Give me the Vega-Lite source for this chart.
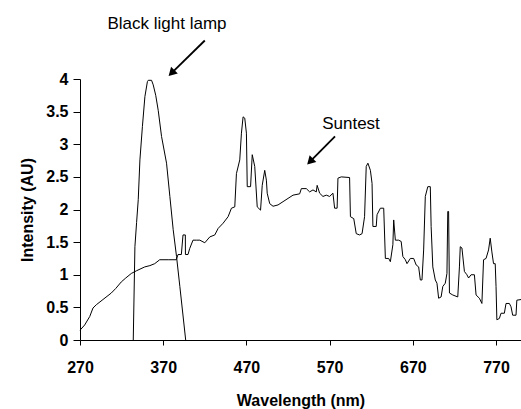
{
  "$schema": "https://vega.github.io/schema/vega-lite/v6.json",
  "width": 441,
  "height": 261,
  "autosize": {"type": "none"},
  "padding": {"left": 80, "top": 79, "right": 0, "bottom": 69},
  "background": "white",
  "config": {
    "view": {"stroke": null},
    "axis": {
      "domainColor": "black", "tickColor": "black", "labelColor": "black", "titleColor": "black",
      "labelFont": "Liberation Sans", "titleFont": "Liberation Sans",
      "labelFontWeight": "bold", "titleFontWeight": "bold",
      "labelFontSize": 16, "titleFontSize": 16, "grid": false, "domainWidth": 1, "tickWidth": 1
    }
  },
  "datasets": {
    "spectra": [
      {"series": "Suntest", "wl": 270, "v": 0.15},
      {"series": "Suntest", "wl": 275.6, "v": 0.23},
      {"series": "Suntest", "wl": 281.7, "v": 0.36},
      {"series": "Suntest", "wl": 285.6, "v": 0.49},
      {"series": "Suntest", "wl": 289.6, "v": 0.54},
      {"series": "Suntest", "wl": 297.6, "v": 0.62},
      {"series": "Suntest", "wl": 307.6, "v": 0.72},
      {"series": "Suntest", "wl": 313, "v": 0.79},
      {"series": "Suntest", "wl": 319.6, "v": 0.89},
      {"series": "Suntest", "wl": 325, "v": 0.95},
      {"series": "Suntest", "wl": 331.7, "v": 1.02},
      {"series": "Suntest", "wl": 337.7, "v": 1.06},
      {"series": "Suntest", "wl": 347.8, "v": 1.12},
      {"series": "Suntest", "wl": 354, "v": 1.14},
      {"series": "Suntest", "wl": 359.8, "v": 1.17},
      {"series": "Suntest", "wl": 365.8, "v": 1.23},
      {"series": "Suntest", "wl": 376, "v": 1.23},
      {"series": "Suntest", "wl": 385.7, "v": 1.23},
      {"series": "Suntest", "wl": 387.8, "v": 1.31},
      {"series": "Suntest", "wl": 391.8, "v": 1.31},
      {"series": "Suntest", "wl": 393.8, "v": 1.61},
      {"series": "Suntest", "wl": 396.6, "v": 1.61},
      {"series": "Suntest", "wl": 396.7, "v": 1.31},
      {"series": "Suntest", "wl": 399.8, "v": 1.31},
      {"series": "Suntest", "wl": 401.8, "v": 1.4},
      {"series": "Suntest", "wl": 405.8, "v": 1.53},
      {"series": "Suntest", "wl": 409.8, "v": 1.53},
      {"series": "Suntest", "wl": 414, "v": 1.53},
      {"series": "Suntest", "wl": 420, "v": 1.49},
      {"series": "Suntest", "wl": 426, "v": 1.58},
      {"series": "Suntest", "wl": 432, "v": 1.61},
      {"series": "Suntest", "wl": 436, "v": 1.71},
      {"series": "Suntest", "wl": 442, "v": 1.79},
      {"series": "Suntest", "wl": 448, "v": 1.89},
      {"series": "Suntest", "wl": 452, "v": 2.02},
      {"series": "Suntest", "wl": 456, "v": 2.04},
      {"series": "Suntest", "wl": 458, "v": 2.55},
      {"series": "Suntest", "wl": 462, "v": 2.76},
      {"series": "Suntest", "wl": 464, "v": 3.17},
      {"series": "Suntest", "wl": 466, "v": 3.42},
      {"series": "Suntest", "wl": 468, "v": 3.4},
      {"series": "Suntest", "wl": 470, "v": 3.17},
      {"series": "Suntest", "wl": 471, "v": 2.35},
      {"series": "Suntest", "wl": 475, "v": 2.35},
      {"series": "Suntest", "wl": 477, "v": 2.84},
      {"series": "Suntest", "wl": 480, "v": 2.66},
      {"series": "Suntest", "wl": 483, "v": 2.04},
      {"series": "Suntest", "wl": 487, "v": 1.99},
      {"series": "Suntest", "wl": 489, "v": 2.37},
      {"series": "Suntest", "wl": 492, "v": 2.6},
      {"series": "Suntest", "wl": 494, "v": 2.45},
      {"series": "Suntest", "wl": 495, "v": 2.25},
      {"series": "Suntest", "wl": 498, "v": 2.09},
      {"series": "Suntest", "wl": 502, "v": 2.05},
      {"series": "Suntest", "wl": 508, "v": 2.07},
      {"series": "Suntest", "wl": 514, "v": 2.12},
      {"series": "Suntest", "wl": 520, "v": 2.17},
      {"series": "Suntest", "wl": 526, "v": 2.22},
      {"series": "Suntest", "wl": 534, "v": 2.24},
      {"series": "Suntest", "wl": 536, "v": 2.32},
      {"series": "Suntest", "wl": 542, "v": 2.32},
      {"series": "Suntest", "wl": 546, "v": 2.27},
      {"series": "Suntest", "wl": 550, "v": 2.3},
      {"series": "Suntest", "wl": 554, "v": 2.27},
      {"series": "Suntest", "wl": 555, "v": 2.37},
      {"series": "Suntest", "wl": 558, "v": 2.25},
      {"series": "Suntest", "wl": 562, "v": 2.2},
      {"series": "Suntest", "wl": 566, "v": 2.22},
      {"series": "Suntest", "wl": 570, "v": 2.2},
      {"series": "Suntest", "wl": 574, "v": 2.25},
      {"series": "Suntest", "wl": 576, "v": 2.02},
      {"series": "Suntest", "wl": 579, "v": 2.02},
      {"series": "Suntest", "wl": 580, "v": 2.48},
      {"series": "Suntest", "wl": 584, "v": 2.5},
      {"series": "Suntest", "wl": 594, "v": 2.49},
      {"series": "Suntest", "wl": 595, "v": 1.89},
      {"series": "Suntest", "wl": 599, "v": 1.86},
      {"series": "Suntest", "wl": 602, "v": 1.63},
      {"series": "Suntest", "wl": 606, "v": 1.61},
      {"series": "Suntest", "wl": 609, "v": 1.63},
      {"series": "Suntest", "wl": 612, "v": 1.89},
      {"series": "Suntest", "wl": 614, "v": 2.66},
      {"series": "Suntest", "wl": 616, "v": 2.71},
      {"series": "Suntest", "wl": 619, "v": 2.6},
      {"series": "Suntest", "wl": 621, "v": 2.4},
      {"series": "Suntest", "wl": 622, "v": 1.74},
      {"series": "Suntest", "wl": 626, "v": 1.74},
      {"series": "Suntest", "wl": 627, "v": 1.92},
      {"series": "Suntest", "wl": 631, "v": 2.02},
      {"series": "Suntest", "wl": 635, "v": 2.02},
      {"series": "Suntest", "wl": 637, "v": 1.25},
      {"series": "Suntest", "wl": 641, "v": 1.25},
      {"series": "Suntest", "wl": 643, "v": 1.2},
      {"series": "Suntest", "wl": 646, "v": 1.46},
      {"series": "Suntest", "wl": 647, "v": 1.84},
      {"series": "Suntest", "wl": 649, "v": 1.53},
      {"series": "Suntest", "wl": 653, "v": 1.53},
      {"series": "Suntest", "wl": 656, "v": 1.51},
      {"series": "Suntest", "wl": 658, "v": 1.28},
      {"series": "Suntest", "wl": 661, "v": 1.23},
      {"series": "Suntest", "wl": 663, "v": 1.17},
      {"series": "Suntest", "wl": 667, "v": 1.25},
      {"series": "Suntest", "wl": 671, "v": 1.25},
      {"series": "Suntest", "wl": 674, "v": 1.15},
      {"series": "Suntest", "wl": 677, "v": 1.12},
      {"series": "Suntest", "wl": 679, "v": 0.92},
      {"series": "Suntest", "wl": 681, "v": 0.92},
      {"series": "Suntest", "wl": 683, "v": 1.38},
      {"series": "Suntest", "wl": 685, "v": 2.2},
      {"series": "Suntest", "wl": 688, "v": 2.35},
      {"series": "Suntest", "wl": 691, "v": 2.35},
      {"series": "Suntest", "wl": 692, "v": 1.74},
      {"series": "Suntest", "wl": 694, "v": 1.12},
      {"series": "Suntest", "wl": 697, "v": 0.92},
      {"series": "Suntest", "wl": 699, "v": 0.87},
      {"series": "Suntest", "wl": 701, "v": 0.64},
      {"series": "Suntest", "wl": 704, "v": 0.66},
      {"series": "Suntest", "wl": 706, "v": 0.82},
      {"series": "Suntest", "wl": 709, "v": 0.87},
      {"series": "Suntest", "wl": 711, "v": 1.02},
      {"series": "Suntest", "wl": 712, "v": 1.97},
      {"series": "Suntest", "wl": 713, "v": 1.97},
      {"series": "Suntest", "wl": 714, "v": 0.72},
      {"series": "Suntest", "wl": 718, "v": 0.69},
      {"series": "Suntest", "wl": 724, "v": 0.66},
      {"series": "Suntest", "wl": 726, "v": 1.12},
      {"series": "Suntest", "wl": 727, "v": 1.43},
      {"series": "Suntest", "wl": 729, "v": 1.41},
      {"series": "Suntest", "wl": 732, "v": 1.05},
      {"series": "Suntest", "wl": 735, "v": 1.0},
      {"series": "Suntest", "wl": 737, "v": 0.95},
      {"series": "Suntest", "wl": 740, "v": 1.0},
      {"series": "Suntest", "wl": 744, "v": 1.0},
      {"series": "Suntest", "wl": 746, "v": 0.69},
      {"series": "Suntest", "wl": 750, "v": 0.64},
      {"series": "Suntest", "wl": 753, "v": 0.56},
      {"series": "Suntest", "wl": 755, "v": 1.23},
      {"series": "Suntest", "wl": 758, "v": 1.25},
      {"series": "Suntest", "wl": 761, "v": 1.38},
      {"series": "Suntest", "wl": 763, "v": 1.56},
      {"series": "Suntest", "wl": 765, "v": 1.35},
      {"series": "Suntest", "wl": 767, "v": 1.17},
      {"series": "Suntest", "wl": 769, "v": 1.17},
      {"series": "Suntest", "wl": 770, "v": 0.82},
      {"series": "Suntest", "wl": 771, "v": 0.31},
      {"series": "Suntest", "wl": 774, "v": 0.33},
      {"series": "Suntest", "wl": 776, "v": 0.41},
      {"series": "Suntest", "wl": 780, "v": 0.41},
      {"series": "Suntest", "wl": 782, "v": 0.56},
      {"series": "Suntest", "wl": 786, "v": 0.56},
      {"series": "Suntest", "wl": 788, "v": 0.51},
      {"series": "Suntest", "wl": 790, "v": 0.38},
      {"series": "Suntest", "wl": 794, "v": 0.38},
      {"series": "Suntest", "wl": 795, "v": 0.61},
      {"series": "Suntest", "wl": 800, "v": 0.62},
      {"series": "Black light lamp", "wl": 334, "v": 0},
      {"series": "Black light lamp", "wl": 336, "v": 1.43},
      {"series": "Black light lamp", "wl": 338, "v": 1.8},
      {"series": "Black light lamp", "wl": 340, "v": 2.15},
      {"series": "Black light lamp", "wl": 342, "v": 2.76},
      {"series": "Black light lamp", "wl": 345, "v": 3.27},
      {"series": "Black light lamp", "wl": 348, "v": 3.73},
      {"series": "Black light lamp", "wl": 351, "v": 3.96},
      {"series": "Black light lamp", "wl": 352, "v": 3.98},
      {"series": "Black light lamp", "wl": 356, "v": 3.98},
      {"series": "Black light lamp", "wl": 358, "v": 3.91},
      {"series": "Black light lamp", "wl": 361, "v": 3.75},
      {"series": "Black light lamp", "wl": 364, "v": 3.52},
      {"series": "Black light lamp", "wl": 368, "v": 3.12},
      {"series": "Black light lamp", "wl": 374, "v": 2.71},
      {"series": "Black light lamp", "wl": 378, "v": 2.2},
      {"series": "Black light lamp", "wl": 382, "v": 1.69},
      {"series": "Black light lamp", "wl": 386, "v": 1.28},
      {"series": "Black light lamp", "wl": 390, "v": 0.82},
      {"series": "Black light lamp", "wl": 397, "v": 0}
    ],
    "arrows": [
      {"wl": 420, "v": 4.59, "wl2": 380, "v2": 4.09},
      {"wl": 576.5, "v": 3.12, "wl2": 547, "v2": 2.74}
    ],
    "heads": [
      {"wl": 380, "v": 4.09},
      {"wl": 546.5, "v": 2.735}
    ],
    "labels": [
      {"wl": 374.6, "v": 4.84, "label": "Black light lamp"},
      {"wl": 595.7, "v": 3.31, "label": "Suntest"}
    ]
  },
  "encoding": {
    "x": {
      "field": "wl", "type": "quantitative",
      "scale": {"domain": [270, 800], "nice": false, "zero": false},
      "axis": {"values": [270, 370, 470, 570, 670, 770], "title": "Wavelength (nm)", "tickSize": 5, "labelPadding": 14, "titlePadding": 17, "labelFlush": false}
    },
    "y": {
      "field": "v", "type": "quantitative",
      "scale": {"domain": [0, 4], "nice": false},
      "axis": {"values": [0, 0.5, 1, 1.5, 2, 2.5, 3, 3.5, 4], "format": "~g", "title": "Intensity (AU)", "tickSize": 7, "labelPadding": 5, "titlePadding": 10}
    }
  },
  "layer": [
    {
      "data": {"name": "spectra"},
      "mark": {"type": "line", "color": "black", "strokeWidth": 1},
      "encoding": {"detail": {"field": "series"}, "order": {"value": null}}
    },
    {
      "data": {"name": "arrows"},
      "mark": {"type": "rule", "color": "black", "strokeWidth": 1.8},
      "encoding": {"x2": {"field": "wl2"}, "y2": {"field": "v2"}}
    },
    {
      "data": {"name": "heads"},
      "mark": {"type": "point", "shape": "triangle-up", "filled": true, "size": 90, "angle": 225, "color": "black", "opacity": 1},
      "encoding": {}
    },
    {
      "data": {"name": "labels"},
      "mark": {"type": "text", "font": "Liberation Sans", "fontSize": 17, "align": "center", "baseline": "middle", "color": "black"},
      "encoding": {"text": {"field": "label"}}
    }
  ]
}
